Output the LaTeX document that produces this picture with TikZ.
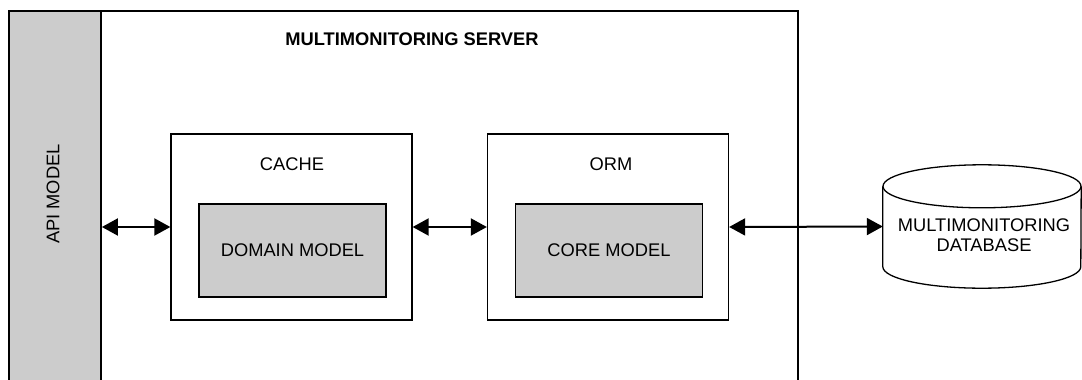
\documentclass[tikz,border=0pt]{standalone}
\usepackage{fontspec}
\setmainfont{Liberation Sans}
\usetikzlibrary{arrows.meta}
\definecolor{boxgray}{HTML}{CCCCCC}
\begin{document}
\begin{tikzpicture}[x=1pt,y=-1pt,
  every node/.style={font=\fontsize{18.3}{20.5}\selectfont, inner sep=0pt},
  serverframe/.style={draw, line width=1.8pt, minimum width=789pt, minimum height=389pt},
  apibar/.style={draw, line width=1.8pt, fill=boxgray, minimum width=92pt, minimum height=389pt},
  outerbox/.style={draw, line width=1.3pt, fill=white, minimum width=241pt, minimum height=186pt},
  innerbox/.style={draw, line width=1.5pt, fill=boxgray, minimum width=187pt, minimum height=93pt},
  dbline/.style={line width=1.3pt},
  link/.style={line width=2pt, {Triangle[length=16pt,width=17pt]}-{Triangle[length=16pt,width=17pt]}}]
  \useasboundingbox (0,0) rectangle (1082,380);
  \clip (0,0) rectangle (1082,380);

  % server frame, open at the bottom of the page
  \node[serverframe] (server) at (403.5,205.5) {};
  \node[apibar] (api) at (55,205.5) {};
  \node[rotate=90] (apilabel) at (53,194) {API MODEL};
  \node (heading) at (412,39) {\bfseries MULTIMONITORING SERVER};

  % cache layer
  \node[outerbox] (cache) at (291.5,227) {};
  \node (cachelabel) at (292,164) {CACHE};
  \node[innerbox] (domain) at (292.5,250.5) {DOMAIN MODEL};

  % ORM layer
  \node[outerbox] (orm) at (608,227) {};
  \node (ormlabel) at (611,164) {ORM};
  \node[innerbox] (core) at (609,250.5) {CORE MODEL};

  % database cylinder
  \node[minimum width=198pt, minimum height=80pt] (db) at (982,226.5) {};
  \draw[dbline] (db.north west) -- (db.south west)
    arc[start angle=180, end angle=360, x radius=99pt, y radius=21.5pt] -- (db.north east);
  \draw[dbline] (db.north) ellipse[x radius=99pt, y radius=21.5pt];
  \node[align=center] (dbtext) at (984,235) {MULTIMONITORING\\DATABASE};

  % connectors
  \draw[link] (api.east |- cache.west) -- (cache.west);
  \draw[link] (cache.east) -- (orm.west);
  \draw[link] (orm.east) -- (db.west);
\end{tikzpicture}
\end{document}
